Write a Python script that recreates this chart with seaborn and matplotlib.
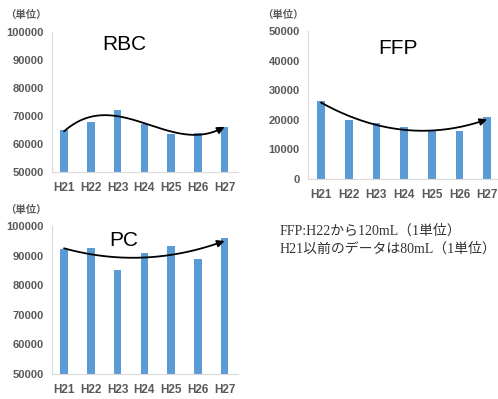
import numpy as np
import pandas as pd
import matplotlib
matplotlib.use("Agg")
import matplotlib.pyplot as plt
import seaborn as sns

# Fiscal years (Heisei)
years = ["H21", "H22", "H23", "H24", "H25", "H26", "H27"]

# Supplied units per product
rbc_units = [65000, 68000, 72000, 67000, 63500, 64000, 66000]
ffp_units = [26300, 19900, 19000, 17600, 16200, 16300, 20800]
pc_units = [92200, 92600, 85200, 90900, 93400, 88900, 95800]

unit_label = "（単位）"
note_lines = ["FFP:H22から120mL（1単位）", "H21以前のデータは80mL（1単位）"]

BAR = "#5B9BD5"
TICK = "#595959"
SPINE = "#D9D9D9"

sns.set_theme(style="white")
plt.rcParams["font.family"] = ["Liberation Sans", "Noto Sans CJK JP", "DejaVu Sans"]

fig = plt.figure(figsize=(4.98, 3.99), dpi=100)
W, H = 498, 399


def px_axes(x0, y0, x1, y1):
    return fig.add_axes([x0 / W, 1 - y1 / H, (x1 - x0) / W, (y1 - y0) / H])


def panel(ax, values, title, ylim, yticks, xlim, order, title_xy):
    df = pd.DataFrame({"year": years, "units": values})
    sns.barplot(data=df, x="year", y="units", color=BAR, width=0.28,
                saturation=1, linewidth=0, ax=ax)
    # polynomial trend line with an arrow at its end
    xi = np.arange(len(values))
    coef = np.polyfit(xi, values, order)
    xs = np.linspace(0, len(values) - 1, 200)
    ys = np.polyval(coef, xs)
    ax.plot(xs[:-4], ys[:-4], color="black", lw=1.3, solid_capstyle="round")
    ax.annotate("", xy=(xs[-1], ys[-1]), xytext=(xs[-6], ys[-6]),
                arrowprops=dict(arrowstyle="-|>,head_length=0.35,head_width=0.17",
                                color="black", lw=1.3, shrinkA=0, shrinkB=0))
    ax.set_ylim(*ylim)
    ax.set_yticks(yticks)
    ax.set_xlim(*xlim)
    ax.set_xlabel("")
    ax.set_ylabel("")
    ax.tick_params(axis="y", length=0, pad=6, labelsize=8, labelcolor=TICK)
    ax.tick_params(axis="x", length=0, pad=7, labelsize=8.5, labelcolor=TICK)
    for lab in ax.get_xticklabels() + ax.get_yticklabels():
        lab.set_fontweight("bold")
    for s in ("top", "right"):
        ax.spines[s].set_visible(False)
    for s in ("left", "bottom"):
        ax.spines[s].set_color(SPINE)
        ax.spines[s].set_linewidth(0.8)
    ax.set_facecolor("none")
    fig.text(title_xy[0] / W, 1 - title_xy[1] / H, title, fontsize=15,
             ha="center", va="center", color="black")


ax1 = px_axes(52, 32, 238, 172)
panel(ax1, rbc_units, "RBC", (50000, 100000), range(50000, 100001, 10000),
      (-0.45, 6.5), 3, (124, 45))

ax2 = px_axes(308, 31, 498, 179)
panel(ax2, ffp_units, "FFP", (0, 50000), range(0, 50001, 10000),
      (-0.47, 6.39), 2, (398, 48))

ax3 = px_axes(52, 226, 238, 374)
panel(ax3, pc_units, "PC", (50000, 100000), range(50000, 100001, 10000),
      (-0.45, 6.5), 2, (124, 240))

for (x, y) in [(26, 15), (283, 15), (26, 210)]:
    fig.text(x / W, 1 - y / H, unit_label, fontsize=7.5, fontweight="bold",
             color=TICK, ha="center", va="center",
             family=["Noto Sans CJK JP", "DejaVu Sans"])

for i, line in enumerate(note_lines):
    fig.text(280 / W, 1 - (231 + 18 * i) / H, line, fontsize=10,
             color="#333333", ha="left", va="center",
             family=["Liberation Serif", "Noto Sans CJK JP"])

fig.savefig("out.png", dpi=100)
